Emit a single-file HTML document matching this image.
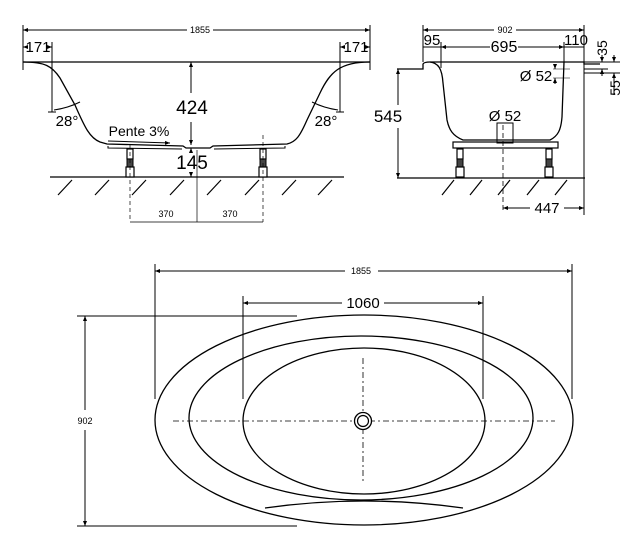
<!DOCTYPE html>
<html><head><style>
body{margin:0;background:#fff;}
svg{display:block;font-family:"Liberation Sans",sans-serif;}
.n{font-family:"Liberation Sans Narrow","Liberation Sans",sans-serif;}
</style></head><body>
<svg width="644" height="551" viewBox="0 0 644 551" xmlns="http://www.w3.org/2000/svg">
<defs>
<marker id="a" viewBox="0 0 10 10" refX="10" refY="5" markerWidth="5" markerHeight="5" orient="auto-start-reverse"><path d="M0,1 L10,5 L0,9 z" fill="#000"/></marker>
</defs>
<g stroke="#000" fill="none" stroke-width="1">
<line x1="23" y1="25" x2="23" y2="70"/><line x1="370" y1="25" x2="370" y2="70"/>
<line x1="23" y1="30" x2="187" y2="30" marker-start="url(#a)"/><line x1="213" y1="30" x2="370" y2="30" marker-end="url(#a)"/>
<line x1="23" y1="62" x2="370" y2="62" stroke-width="1.3"/>
<line x1="23" y1="47" x2="28" y2="47" marker-start="url(#a)"/><line x1="47" y1="47" x2="52" y2="47" marker-end="url(#a)"/>
<line x1="340" y1="47" x2="345" y2="47" marker-start="url(#a)"/><line x1="365" y1="47" x2="370" y2="47" marker-end="url(#a)"/>
<line x1="52" y1="42" x2="52" y2="112"/><line x1="340" y1="42" x2="340" y2="112"/>
<line x1="48" y1="112" x2="56" y2="112"/><line x1="336" y1="112" x2="344" y2="112"/>
<path d="M54,110 Q68,108 80,102"/><path d="M338,110 Q324,108 312,102"/>
<path d="M23,62 C45,62 52,66 60,78 L75,105 C85,128 90,138 100,142 L107,144 L183,146 L186,148 L210,148 L213,146 L287,144 C296,142 300,136 307,120 L320,93 C330,72 340,62 370,62" stroke-width="1.3"/>
<path d="M108,146 L108,148 L182,149 M214,149 L285,148 L285,146"/>
<line x1="191" y1="62" x2="191" y2="93" marker-start="url(#a)"/><line x1="191" y1="122" x2="191" y2="145" marker-end="url(#a)"/>
<line x1="191" y1="148" x2="191" y2="153" marker-start="url(#a)"/><line x1="191" y1="172" x2="191" y2="177" marker-end="url(#a)"/>
<line x1="108" y1="141" x2="170" y2="143" marker-end="url(#a)"/>
<line x1="50" y1="177" x2="344" y2="177" stroke-width="1.2"/>
<g stroke-width="1.2">
<line x1="58" y1="195" x2="72" y2="180"/><line x1="95" y1="195" x2="109" y2="180"/><line x1="132" y1="195" x2="146" y2="180"/><line x1="170" y1="195" x2="184" y2="180"/><line x1="207" y1="195" x2="221" y2="180"/><line x1="245" y1="195" x2="259" y2="180"/><line x1="282" y1="195" x2="296" y2="180"/><line x1="318" y1="195" x2="332" y2="180"/>
</g>
<rect x="127" y="149" width="6" height="10" fill="#fff" stroke-width="1.2"/><rect x="127" y="159" width="6" height="8" fill="#444"/><rect x="126" y="167" width="8" height="10" fill="#fff" stroke-width="1.2"/>
<rect x="260" y="149" width="6" height="10" fill="#fff" stroke-width="1.2"/><rect x="260" y="159" width="6" height="8" fill="#444"/><rect x="259" y="167" width="8" height="10" fill="#fff" stroke-width="1.2"/>
<line x1="130" y1="145" x2="130" y2="222" stroke-dasharray="4,3" stroke-width="0.7"/>
<line x1="263" y1="135" x2="263" y2="222" stroke-dasharray="4,3" stroke-width="0.7"/>
<line x1="197" y1="150" x2="197" y2="222" stroke-width="0.7"/>
<line x1="130" y1="222" x2="263" y2="222" stroke-width="0.7"/>
<line x1="423" y1="25" x2="423" y2="62"/><line x1="584" y1="25" x2="584" y2="215"/>
<line x1="423" y1="30" x2="494" y2="30" marker-start="url(#a)"/><line x1="516" y1="30" x2="584" y2="30" marker-end="url(#a)"/>
<line x1="423" y1="47" x2="441" y2="47"/><line x1="441" y1="47" x2="490" y2="47" marker-start="url(#a)"/><line x1="518" y1="47" x2="564" y2="47" marker-end="url(#a)"/><line x1="564" y1="47" x2="584" y2="47"/>
<line x1="441" y1="42" x2="441" y2="68"/><line x1="564" y1="42" x2="564" y2="62"/>
<path d="M397,69 L423,69 L423,64 Q424,62 430,62 L584,62 L584,64 L600,64" stroke-width="1.3"/>
<path d="M430,62 C438,63 442,68 443,83 L447,120 C449,130 453,136 463,140 L550,140 C558,136 561,130 562,117 L564,62" stroke-width="1.3"/>
<line x1="584" y1="62" x2="620" y2="62"/><line x1="584" y1="69" x2="608" y2="69"/><line x1="584" y1="73" x2="620" y2="73"/>
<line x1="602" y1="55" x2="602" y2="62" marker-end="url(#a)"/><line x1="602" y1="76" x2="602" y2="69" marker-end="url(#a)"/>
<line x1="614" y1="55" x2="614" y2="62" marker-end="url(#a)"/><line x1="614" y1="95" x2="614" y2="73" marker-end="url(#a)"/>
<line x1="553" y1="69" x2="570" y2="69" stroke-width="0.6"/><line x1="553" y1="78" x2="570" y2="78" stroke-width="0.6"/>
<line x1="555" y1="64" x2="555" y2="69" marker-end="url(#a)"/><line x1="555" y1="84" x2="555" y2="78" marker-end="url(#a)"/>
<rect x="453" y="142" width="105" height="6" stroke-width="1.2"/>
<rect x="497" y="123" width="16" height="20"/>
<line x1="397" y1="178" x2="585" y2="178" stroke-width="1.2"/>
<line x1="398" y1="69" x2="398" y2="105" marker-start="url(#a)"/><line x1="398" y1="128" x2="398" y2="178" marker-end="url(#a)"/>
<g stroke-width="1.2">
<line x1="442" y1="195" x2="454" y2="180"/><line x1="470" y1="195" x2="482" y2="180"/><line x1="498" y1="195" x2="510" y2="180"/><line x1="527" y1="195" x2="539" y2="180"/><line x1="555" y1="195" x2="567" y2="180"/>
</g>
<rect x="457" y="149" width="6" height="10" fill="#fff" stroke-width="1.2"/><rect x="457" y="159" width="6" height="8" fill="#444"/><rect x="456" y="167" width="8" height="10" fill="#fff" stroke-width="1.2"/>
<rect x="546" y="149" width="6" height="10" fill="#fff" stroke-width="1.2"/><rect x="546" y="159" width="6" height="8" fill="#444"/><rect x="545" y="167" width="8" height="10" fill="#fff" stroke-width="1.2"/>
<line x1="503" y1="125" x2="503" y2="212" stroke-dasharray="5,3" stroke-width="0.8"/>
<line x1="503" y1="208" x2="530" y2="208" marker-start="url(#a)"/><line x1="564" y1="208" x2="584" y2="208" marker-end="url(#a)"/>
<line x1="155" y1="264" x2="155" y2="399"/><line x1="572" y1="264" x2="572" y2="399"/>
<line x1="155" y1="271" x2="345" y2="271" marker-start="url(#a)"/><line x1="378" y1="271" x2="572" y2="271" marker-end="url(#a)"/>
<line x1="243" y1="296" x2="243" y2="399"/><line x1="483" y1="296" x2="483" y2="399"/>
<line x1="243" y1="303" x2="342" y2="303" marker-start="url(#a)"/><line x1="384" y1="303" x2="483" y2="303" marker-end="url(#a)"/>
<line x1="77" y1="316" x2="297" y2="316"/><line x1="77" y1="526" x2="297" y2="526"/>
<line x1="85" y1="316" x2="85" y2="410" marker-start="url(#a)"/><line x1="85" y1="430" x2="85" y2="526" marker-end="url(#a)"/>
<ellipse cx="364" cy="420" rx="209" ry="105" stroke-width="1.3"/>
<ellipse cx="361" cy="418" rx="172" ry="82" stroke-width="1.3"/>
<ellipse cx="364" cy="421" rx="121" ry="73" stroke-width="1.3"/>
<path d="M265,508 Q364,494 463,508" stroke-width="1.3"/>
<line x1="173" y1="421" x2="555" y2="421" stroke-dasharray="6,3,2,3" stroke-width="0.8"/>
<line x1="363" y1="358" x2="363" y2="483" stroke-dasharray="6,3,2,3" stroke-width="0.8"/>
<circle cx="363" cy="421" r="8.5" fill="#fff" stroke-width="1.3"/><circle cx="363" cy="421" r="5.5" stroke-width="1.2"/>
</g>
<g fill="#000" text-anchor="middle">
<text x="200" y="33" font-size="9">1855</text>
<text class="n" x="38" y="52" font-size="15">171</text>
<text class="n" x="356" y="52" font-size="15">171</text>
<text class="n" x="192" y="114" font-size="19">424</text>
<text class="n" x="192" y="169" font-size="19">145</text>
<text class="n" x="139" y="136" font-size="14">Pente 3%</text>
<text class="n" x="67" y="126" font-size="15">28°</text>
<text class="n" x="326" y="126" font-size="15">28°</text>
<text x="166" y="217" font-size="9">370</text>
<text x="230" y="217" font-size="9">370</text>
<text x="505" y="33" font-size="9">902</text>
<text class="n" x="432" y="45" font-size="15">95</text>
<text class="n" x="504" y="52" font-size="16">695</text>
<text class="n" x="576" y="45" font-size="15">110</text>
<text class="n" x="388" y="122" font-size="17">545</text>
<text class="n" x="536" y="81" font-size="15">Ø 52</text>
<text class="n" x="505" y="121" font-size="15">Ø 52</text>
<text class="n" x="547" y="213" font-size="15">447</text>
<text class="n" font-size="14" transform="translate(607,48) rotate(-90)">35</text>
<text class="n" font-size="14" transform="translate(620,88) rotate(-90)">55</text>
<text x="361" y="274" font-size="9">1855</text>
<text class="n" x="363" y="308" font-size="15">1060</text>
<text x="85" y="424" font-size="9">902</text>
</g>
</svg>
</body></html>
